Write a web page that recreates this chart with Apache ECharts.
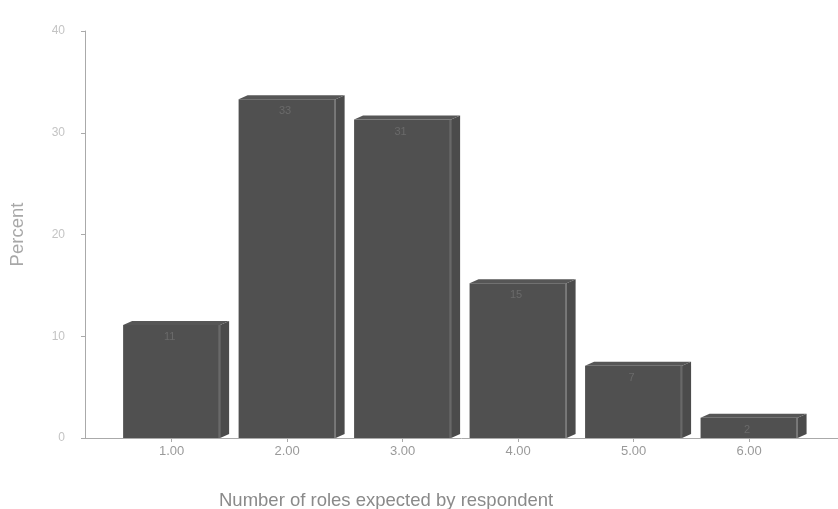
<!DOCTYPE html>
<html>
<head>
<meta charset="utf-8">
<script src="https://cdn.jsdelivr.net/npm/echarts@6/dist/echarts.min.js"></script>
<style>
html,body{margin:0;padding:0;background:#fff;}
#chart{width:838px;height:509px;}
</style>
</head>
<body>
<div id="chart"></div>
<script>
// Data
const categories = [1, 2, 3, 4, 5, 6];
const tickLabels = ['1.00', '2.00', '3.00', '4.00', '5.00', '6.00'];
const percents = [11.1, 33.3, 31.3, 15.2, 7.1, 2.0];
const counts = [11, 33, 31, 15, 7, 2];
const yTicks = [0, 10, 20, 30, 40];

const FONT = '"Liberation Sans", Arial, sans-serif';
const chart = echarts.init(document.getElementById('chart'), null, {renderer: 'canvas'});

const seriesData = categories.map((c, i) => [c, percents[i], counts[i]]);

function renderBar(params, api) {
  const x = api.value(0), y = api.value(1), n = api.value(2);
  const top = api.coord([x, y]);
  const base = api.coord([x, 0]);
  const w = api.size([1, 0])[0] * 0.84;
  const x0 = top[0] - w / 2, x1 = top[0] + w / 2;
  const dx = 9, dy = 4;
  const yt = top[1], yb = base[1];
  return {
    type: 'group',
    children: [
      {type: 'polygon', shape: {points: [[x1, yt], [x1 + dx, yt - dy], [x1 + dx, yb - dy], [x1, yb]]},
        style: {fill: '#4b4b4b'}},
      {type: 'polygon', shape: {points: [[x0, yt], [x0 + dx, yt - dy], [x1 + dx, yt - dy], [x1, yt]]},
        style: {fill: '#565656'}},
      {type: 'rect', shape: {x: x0, y: yt, width: w, height: yb - yt},
        style: {fill: '#505050'}},
      {type: 'line', shape: {x1: x1 - 1, y1: yt, x2: x1 - 1, y2: yb},
        style: {stroke: '#7a7a7a', lineWidth: 1}},
      {type: 'text', x: top[0] - 2, y: yt + 12,
        style: {text: String(n), fill: '#6a6a6a', fontSize: 11, fontFamily: FONT, align: 'center', verticalAlign: 'middle'}}
    ]
  };
}

const option = {
  backgroundColor: '#ffffff',
  animation: false,
  title: {
    text: 'Number of roles expected by respondent',
    left: 214, top: 486,
    textStyle: {fontFamily: FONT, fontSize: 18.5, fontWeight: 'normal', color: '#8a8a8a'}
  },
  grid: {left: 85, right: 0, top: 31, bottom: 71, containLabel: false},
  xAxis: {
    type: 'value', min: 0.25, max: 6.77,
    splitLine: {show: false},
    axisLine: {show: true, lineStyle: {color: '#aaaaaa', width: 1}},
    axisTick: {show: true, customValues: categories, length: 4, lineStyle: {color: '#aaaaaa'}},
    axisLabel: {
      customValues: categories,
      formatter: v => tickLabels[categories.indexOf(Math.round(v))] || '',
      color: '#9a9a9a', fontSize: 13, fontFamily: FONT, margin: 7
    }
  },
  yAxis: {
    type: 'value', min: 0, max: 40, interval: 10,
    name: 'Percent', nameLocation: 'middle', nameRotate: 90, nameGap: 58,
    nameTextStyle: {color: '#a8a8a8', fontSize: 18.5, fontFamily: FONT},
    splitLine: {show: false},
    axisLine: {show: true, lineStyle: {color: '#aaaaaa', width: 1}},
    axisTick: {show: true, length: 4, lineStyle: {color: '#aaaaaa'}},
    axisLabel: {
      formatter: v => (yTicks.indexOf(v) >= 0 ? String(v) : ''),
      color: '#c4c4c4', fontSize: 12, fontFamily: FONT, margin: 20
    }
  },
  series: [{
    type: 'custom',
    renderItem: renderBar,
    encode: {x: 0, y: 1},
    data: seriesData,
    clip: false
  }]
};
chart.setOption(option);
</script>
</body>
</html>
